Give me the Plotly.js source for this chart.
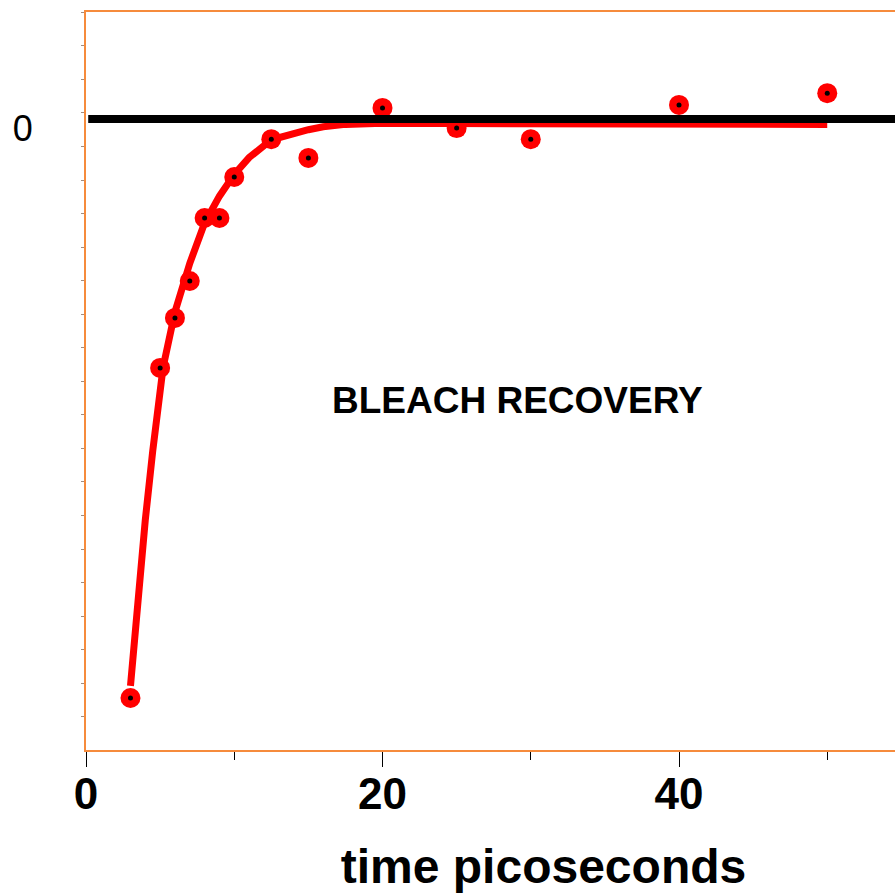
<!DOCTYPE html>
<html>
<head>
<meta charset="utf-8">
<script src="https://cdn.plot.ly/plotly-3.0.1.min.js"></script>
<style>
html,body{margin:0;padding:0;overflow:hidden;background:#fff;width:895px;height:893px;}
#chart{width:1001px;height:893px;}
</style>
</head>
<body>
<div id="chart"></div>
<script>
// measured data points (time in ps, signal in arbitrary units)
var timePs = [3, 5, 6, 7, 8, 9, 10, 12.5, 15, 20, 25, 30, 40, 50];
var signal = [-17.26, -7.42, -5.93, -4.83, -2.95, -2.95, -1.73, -0.60, -1.16, 0.33, -0.27, -0.60, 0.42, 0.77];

// fitted recovery curve
var fitTime = [3, 3.5, 4, 4.5, 5, 5.2, 6, 7, 8, 9, 10, 11, 12.5, 14, 15, 16, 17.5, 20, 30, 40, 50];
var fitSignal = [-16.9, -14.2, -11.95, -9.9, -8.1, -7.4, -5.75, -4.3, -3.1, -2.3, -1.65, -1.15, -0.62, -0.42, -0.32, -0.23, -0.16, -0.13, -0.14, -0.15, -0.16];

// zero baseline
var baseTime = [0.15, 70];
var baseSignal = [0, 0];

var xTickVals = [0, 20, 40];
var xTickText = ['0', '20', '40'];
var yTickVals = [0];
var yTickText = ['0'];

var frame = '#f68b3c';

var traces = [
  {x: fitTime, y: fitSignal, mode: 'lines', line: {color: '#ff0000', width: 7}, hoverinfo: 'skip', showlegend: false},
  {x: timePs, y: signal, mode: 'markers', marker: {color: '#ff0000', size: 20}, showlegend: false},
  {x: timePs, y: signal, mode: 'markers', marker: {color: '#000000', size: 5}, hoverinfo: 'skip', showlegend: false},
  {x: baseTime, y: baseSignal, mode: 'lines', line: {color: '#000000', width: 8}, hoverinfo: 'skip', showlegend: false}
];

var layout = {
  width: 1001, height: 893,
  margin: {l: 86, r: 0, t: 12, b: 143, pad: 0},
  paper_bgcolor: '#ffffff', plot_bgcolor: '#ffffff',
  showlegend: false,
  xaxis: {
    range: [0, 61.72], showgrid: false, zeroline: false,
    showline: true, linecolor: frame, linewidth: 2, mirror: true,
    tickmode: 'array', tickvals: xTickVals, ticktext: xTickText,
    ticks: 'outside', ticklen: 15, tickwidth: 1, tickcolor: '#000000',
    minor: {tickmode: 'linear', tick0: 0, dtick: 10, ticks: 'outside', ticklen: 8, tickwidth: 1, tickcolor: '#000000'},
    ticklabelstandoff: -11,
    tickfont: {family: 'Liberation Sans, Arial, sans-serif', size: 44, color: '#000000', weight: 'bold'},
    title: {text: '<b>time picoseconds</b>', font: {family: 'Liberation Sans, Arial, sans-serif', size: 48, color: '#000000'}, standoff: 39}
  },
  yaxis: {
    range: [-18.81, 3.19], showgrid: false, zeroline: false,
    showline: true, linecolor: frame, linewidth: 2, mirror: true,
    tickmode: 'array', tickvals: yTickVals, ticktext: yTickText,
    ticks: '',
    minor: {tickmode: 'linear', tick0: 0.18, dtick: 1, ticks: 'outside', ticklen: 3, tickwidth: 1, tickcolor: '#a08c80'},
    ticklabelstandoff: 44, ticklabelshift: 9,
    tickfont: {family: 'Liberation Sans, Arial, sans-serif', size: 36, color: '#000000'}
  },
  annotations: [{
    x: 29.1, y: -8.38, xref: 'x', yref: 'y', showarrow: false,
    text: '<b>BLEACH RECOVERY</b>',
    font: {family: 'Liberation Sans, Arial, sans-serif', size: 37, color: '#000000'}
  }]
};

Plotly.newPlot('chart', traces, layout, {staticPlot: true, displayModeBar: false});
</script>
</body>
</html>
